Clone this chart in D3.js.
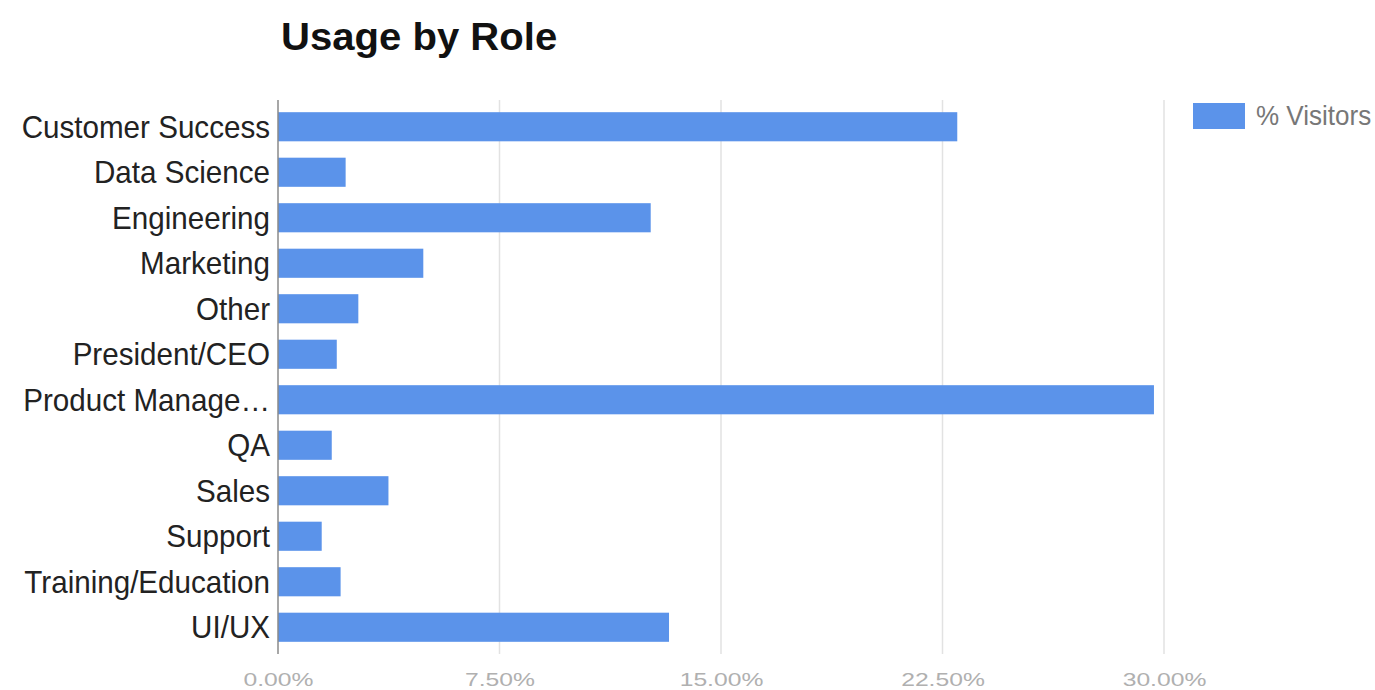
<!DOCTYPE html>
<html>
<head>
<meta charset="utf-8">
<script src="https://cdn.jsdelivr.net/npm/d3@7"></script>
<style>
  html, body { margin: 0; padding: 0; background: #fff; }
  svg { display: block; }
</style>
</head>
<body>
<svg id="chart" width="1375" height="690"></svg>
<script>
// Share of visitors by job role (percent)
const roles = [
  "Customer Success", "Data Science", "Engineering", "Marketing", "Other",
  "President/CEO", "Product Manage…", "QA", "Sales", "Support",
  "Training/Education", "UI/UX"
];
const visitorsPct = [23.0, 2.29, 12.62, 4.92, 2.72, 1.99, 29.66, 1.82, 3.74, 1.48, 2.12, 13.24];
const tickValues = [0, 7.5, 15, 22.5, 30];
const seriesName = "% Visitors";
const chartTitle = "Usage by Role";

const data = roles.map((r, i) => ({ role: r, value: visitorsPct[i] }));
const FONT = "Liberation Sans, Arial, sans-serif";

const svg = d3.select("#chart");
const margin = { top: 104, left: 278, right: 211, bottom: 40 };
const width = 1375 - margin.left - margin.right;   // 0% .. 30%
const height = 650 - margin.top;

const x = d3.scaleLinear().domain([0, 30]).range([0, width]);
const y = d3.scaleBand().domain(roles).range([0, height]).paddingInner(0.36).paddingOuter(0.18);

const g = svg.append("g").attr("transform", `translate(${margin.left},${margin.top})`);

// Title
svg.append("text")
  .attr("transform", "translate(281,50) scale(1.055,1)")
  .attr("font-family", FONT)
  .attr("font-weight", "bold")
  .attr("font-size", 38)
  .attr("fill", "#111")
  .text(chartTitle);

// Vertical gridlines
g.selectAll("line.grid")
  .data(tickValues.filter(d => d !== 0))
  .join("line")
  .attr("class", "grid")
  .attr("x1", d => x(d)).attr("x2", d => x(d))
  .attr("y1", -4).attr("y2", height + 4)
  .attr("stroke", "#e2e2e2")
  .attr("stroke-width", 1.5);

// Bars
g.selectAll("rect.bar")
  .data(data)
  .join("rect")
  .attr("class", "bar")
  .attr("x", x(0))
  .attr("y", d => y(d.role))
  .attr("width", d => x(d.value) - x(0))
  .attr("height", y.bandwidth())
  .attr("fill", "#5b93ea");

// Baseline at zero
g.append("line")
  .attr("x1", x(0)).attr("x2", x(0))
  .attr("y1", -4).attr("y2", height + 4)
  .attr("stroke", "#8a8a8a")
  .attr("stroke-width", 1.5);

// Category labels (slightly condensed)
const labelScale = 0.955;
const yAxis = d3.axisLeft(y).tickSize(0).tickPadding(8);
const yg = g.append("g").call(yAxis);
yg.select(".domain").remove();
yg.selectAll("text")
  .attr("font-family", FONT)
  .attr("font-size", 31)
  .attr("fill", "#222")
  .attr("dy", "0.36em")
  .attr("x", -8 / labelScale)
  .attr("transform", `scale(${labelScale},1)`);

// Value axis labels (slightly widened)
const tickScale = 1.3;
const xAxis = d3.axisBottom(x).tickValues(tickValues).tickSize(0)
  .tickFormat(d => d3.format(".2f")(d) + "%");
const xg = g.append("g").attr("transform", `translate(0,${height})`).call(xAxis);
xg.select(".domain").remove();
xg.selectAll("text")
  .attr("font-family", FONT)
  .attr("font-size", 19)
  .attr("fill", "#b0b0b0")
  .attr("y", 36)
  .attr("dy", 0)
  .attr("transform", `scale(${tickScale},1)`);

// Legend
const lg = svg.append("g").attr("transform", "translate(1193,103)");
lg.append("rect").attr("width", 52).attr("height", 26).attr("fill", "#5b93ea");
lg.append("text")
  .attr("transform", "translate(63,22) scale(0.93,1)")
  .attr("font-family", FONT)
  .attr("font-size", 28)
  .attr("fill", "#777")
  .text(seriesName);
</script>
</body>
</html>
